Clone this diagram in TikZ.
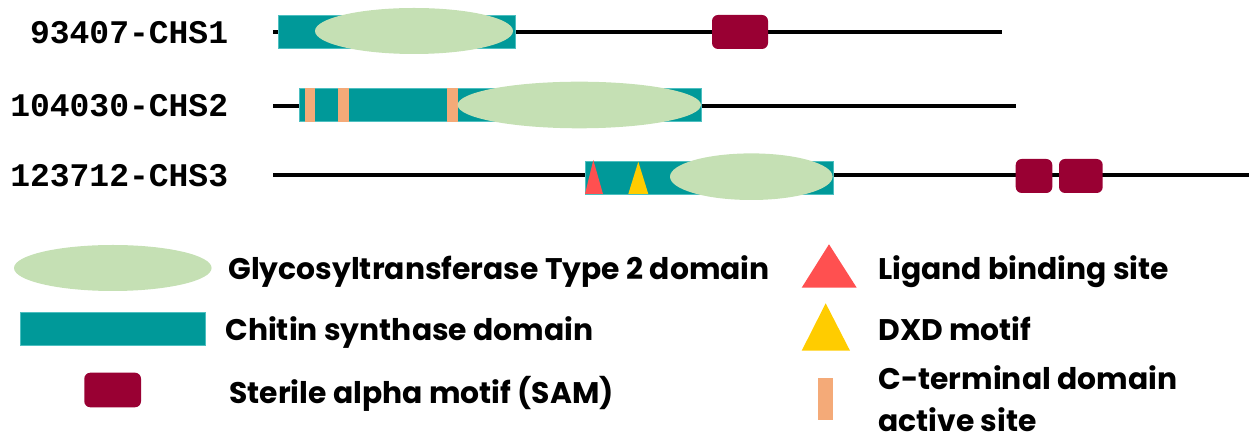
\documentclass[tikz,border=0pt]{standalone}
\usepackage{fontspec}
\setmainfont{Poppins}
\setmonofont{Liberation Mono}
\usepackage{tikz}
\usetikzlibrary{calc}
\definecolor{chitin}{HTML}{009999}
\definecolor{chitinedge}{HTML}{4DBFC0}
\definecolor{gtwo}{HTML}{C5E0B4}
\definecolor{sam}{HTML}{990033}
\definecolor{cterm}{HTML}{F4AA78}
\definecolor{ligand}{HTML}{FF5050}
\definecolor{dxd}{HTML}{FFCC00}
\tikzset{
  backbone/.style={draw=black, line width=2pt},
  csbox/.style={fill=chitin, draw=chitinedge, line width=0.3pt},
  gtdom/.style={fill=gtwo},
  sambox/.style={fill=sam, rounded corners=3pt},
  ctbar/.style={fill=cterm},
  ligtri/.style={fill=ligand},
  dxdtri/.style={fill=dxd},
  gene/.style={anchor=east, inner sep=0pt, font=\ttfamily\bfseries\fontsize{16.5}{18}\selectfont},
  keytext/.style={anchor=base west, inner sep=0pt, font=\bfseries\fontsize{14.9}{16}\selectfont}
}
\begin{document}
\begin{tikzpicture}[x=0.5pt,y=-0.5pt]
  \useasboundingbox (0,0) rectangle (1249,437);

  % protein names
  \node[gene] (chs1) at (228.5,33) {93407-CHS1};
  \node[gene] (chs2) at (228.5,106) {104030-CHS2};
  \node[gene] (chs3) at (228.5,176) {123712-CHS3};

  \coordinate (s1) at (273,32);
  \coordinate (e1) at (1002,32);
  \coordinate (s2) at (273,106);
  \coordinate (e2) at (1016,106);
  \coordinate (s3) at (273,175);
  \coordinate (e3) at (1249,175);

  \draw[backbone] (s1) -- (e1);
  \draw[backbone] (s2) -- (e2);
  \draw[backbone] (s3) -- (e3);

  % CHS1
  \filldraw[csbox] (278,15) rectangle (515,48);
  \fill[gtdom] (414,31) ellipse [x radius=99, y radius=23];
  \fill[sambox] (712,15) rectangle (768,49);

  % CHS2
  \filldraw[csbox] (299.5,88.5) rectangle (701,121.5);
  \fill[ctbar] (305,88) rectangle (315,122);
  \fill[ctbar] (337.7,88) rectangle (349.3,122);
  \fill[ctbar] (446.7,88) rectangle (457.7,122);
  \fill[gtdom] (579.3,105) ellipse [x radius=121.7, y radius=23.3];

  % CHS3
  \filldraw[csbox] (585,161.7) rectangle (833.7,194);
  \fill[ligtri] (585,194) -- (593.3,160) -- (603,194) -- cycle;
  \fill[dxdtri] (628.3,194) -- (638.3,161.7) -- (648.3,194) -- cycle;
  \fill[gtdom] (751.3,176.7) ellipse [x radius=81.3, y radius=23.3];
  \fill[sambox] (1015.7,159) rectangle (1052.3,193);
  \fill[sambox] (1059,159) rectangle (1102.7,193);

  % legend
  \fill[gtdom] (112.8,268) ellipse [x radius=98.8, y radius=23];
  \filldraw[csbox] (20,312.3) rectangle (205,345.7);
  \fill[sambox] (84.3,372.7) rectangle (141,407.3);
  \fill[ligtri] (801.7,287.7) -- (829,244.3) -- (856.7,287.7) -- cycle;
  \fill[dxdtri] (801.7,350.7) -- (825.7,303.3) -- (850,350.7) -- cycle;
  \fill[ctbar] (818.3,378.3) rectangle (833.3,420);

  \node[keytext] (kgt) at (228,279.3) {Glycosyltransferase Type 2 domain};
  \node[keytext] (kcs) at (225,341) {Chitin synthase domain};
  \node[keytext] (ksam) at (229,403.3) {Sterile alpha motif (SAM)};
  \node[keytext] (klig) at (878,280) {Ligand binding site};
  \node[keytext] (kdxd) at (878,340.7) {DXD motif};
  \node[keytext] (kct) at (878,390) {C-terminal domain};
  \node[keytext] (kact) at (878,431.7) {active site};
\end{tikzpicture}
\end{document}
